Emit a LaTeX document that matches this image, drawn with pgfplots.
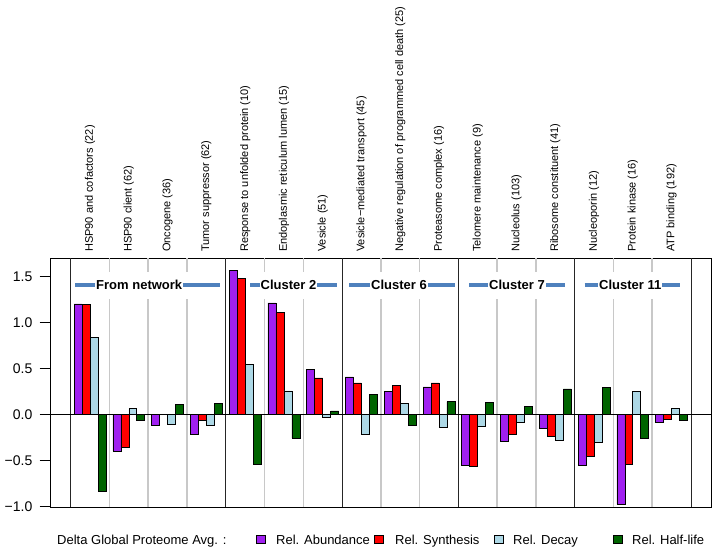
\documentclass[border=0pt]{standalone}
\usepackage{fontspec}
\setmainfont{Liberation Sans}
\usepackage{pgfplots}
\pgfplotsset{compat=1.18}
\newcommand\fs[1]{\fontsize{#1}{#1}\selectfont}
\definecolor{cpurple}{HTML}{A020F0}
\definecolor{cred}{HTML}{FF0000}
\definecolor{cblue}{HTML}{ADD8E6}
\definecolor{cgreen}{HTML}{006400}
\definecolor{cband}{RGB}{79,129,189}
\definecolor{csep}{HTML}{C8C8C8}
\begin{document}
\begin{tikzpicture}[x=1pt,y=1pt]
\useasboundingbox (0,0) rectangle (716,550);
\begin{axis}[
  at={(50pt,43pt)}, anchor=south west,
  scale only axis, width=661pt, height=248.7pt,
  xmin=-0.034, xmax=17.016, ymin=-1.0076, ymax=1.6957,
  clip=false,
  axis line style={line width=1pt},
  xtick=\empty,
  ytick={-1,-0.5,0,0.5,1,1.5},
  yticklabels={−1.0,−0.5,0.0,0.5,1.0,1.5},
  ytick pos=left, tick align=outside, major tick length=10.5pt,
  tick style={black, line width=1pt},
  yticklabel style={font=\fs{14}, inner sep=0pt, anchor=east, xshift=-7pt},
]
% thin grey separators, broken where the group labels sit
\pgfplotsinvokeforeach{1.5,2.5,3.5,5.5,6.5,8.5,9.5,11.5,12.5,14.5,15.5}{
  \draw[csep, line width=1.5pt] (axis cs:#1,-1.0076) -- (axis cs:#1,1.253);
  \draw[csep, line width=1.5pt] (axis cs:#1,1.547) -- (axis cs:#1,1.6957);
}
% group labels
\draw[cband, line width=3.5pt] (axis cs:0.611,1.405) -- (axis cs:4.35,1.405);
\draw[cband, line width=3.5pt] (axis cs:5.125,1.405) -- (axis cs:7.369,1.405);
\draw[cband, line width=3.5pt] (axis cs:7.679,1.405) -- (axis cs:10.41,1.405);
\draw[cband, line width=3.5pt] (axis cs:10.774,1.405) -- (axis cs:13.25,1.405);
\draw[cband, line width=3.5pt] (axis cs:13.755,1.405) -- (axis cs:16.216,1.405);
\tikzset{grp/.style={fill=white, inner xsep=0.8pt, inner ysep=0pt, font=\bfseries\fs{13}}}
\node[grp] at (axis cs:2.267,1.405) {From network};
\node[grp] at (axis cs:6.118,1.405) {Cluster 2};
\node[grp] at (axis cs:8.968,1.405) {Cluster 6};
\node[grp] at (axis cs:12.012,1.405) {Cluster 7};
\node[grp] at (axis cs:14.934,1.405) {Cluster 11};

\addplot[ybar, bar width=0.206, bar shift=-0.309, fill=cpurple, draw=black, line width=0.7pt] coordinates {
 (1,1.20) (2,-0.40) (3,-0.116) (4,-0.22) (5,1.568) (6,1.21) (7,0.487) (8,0.407)
 (9,0.25) (10,0.298) (11,-0.56) (12,-0.298) (13,-0.153) (14,-0.552) (15,-0.98) (16,-0.087)};
\addplot[ybar, bar width=0.206, bar shift=-0.103, fill=cred, draw=black, line width=0.7pt] coordinates {
 (1,1.19) (2,-0.36) (3,0) (4,-0.065) (5,1.48) (6,1.11) (7,0.396) (8,0.341)
 (9,0.316) (10,0.341) (11,-0.563) (12,-0.218) (13,-0.243) (14,-0.461) (15,-0.545) (16,-0.054)};
\addplot[ybar, bar width=0.206, bar shift=0.103, fill=cblue, draw=black, line width=0.7pt] coordinates {
 (1,0.84) (2,0.062) (3,-0.11) (4,-0.116) (5,0.54) (6,0.254) (7,-0.036) (8,-0.22)
 (9,0.116) (10,-0.14) (11,-0.13) (12,-0.087) (13,-0.28) (14,-0.30) (15,0.25) (16,0.065)};
\addplot[ybar, bar width=0.206, bar shift=0.309, fill=cgreen, draw=black, line width=0.7pt] coordinates {
 (1,-0.835) (2,-0.065) (3,0.105) (4,0.116) (5,-0.54) (6,-0.26) (7,0.036) (8,0.22)
 (9,-0.12) (10,0.138) (11,0.127) (12,0.087) (13,0.276) (14,0.294) (15,-0.258) (16,-0.069)};

% group separators and zero line
\pgfplotsinvokeforeach{0.5,4.5,7.5,10.5,13.5,16.5}{
  \draw[black!85, line width=0.9pt] (axis cs:#1,-1.0076) -- (axis cs:#1,1.6957);
}
\draw[black, line width=1.6pt] (axis cs:-0.034,0) -- (axis cs:17.016,0);

% category labels
\tikzset{cat/.style={rotate=90, anchor=west, inner sep=0pt, font=\fs{11}}}
\node[cat] at (axis cs:1,1.764) {HSP90 and cofactors (22)};
\node[cat] at (axis cs:2,1.764) {HSP90 client (62)};
\node[cat] at (axis cs:3,1.764) {Oncogene (36)};
\node[cat] at (axis cs:4,1.764) {Tumor suppressor (62)};
\node[cat] at (axis cs:5,1.764) {Response to unfolded protein (10)};
\node[cat] at (axis cs:6,1.764) {Endoplasmic reticulum lumen (15)};
\node[cat] at (axis cs:7,1.764) {Vesicle (51)};
\node[cat] at (axis cs:8,1.764) {Vesicle−mediated transport (45)};
\node[cat] at (axis cs:9,1.764) {Negative regulation of programmed cell death (25)};
\node[cat] at (axis cs:10,1.764) {Proteasome complex (16)};
\node[cat] at (axis cs:11,1.764) {Telomere maintenance (9)};
\node[cat] at (axis cs:12,1.764) {Nucleolus (103)};
\node[cat] at (axis cs:13,1.764) {Ribosome constituent (41)};
\node[cat] at (axis cs:14,1.764) {Nucleoporin (12)};
\node[cat] at (axis cs:15,1.764) {Protein kinase (16)};
\node[cat] at (axis cs:16,1.764) {ATP binding (192)};
\end{axis}

% legend
\tikzset{leg/.style={anchor=base west, inner sep=0pt, font=\fs{13}}}
\node[leg] at (57,6) {Delta Global Proteome Avg. :};
\draw[fill=cpurple, line width=0.7pt] (256,6.5) rectangle (265,14.5);
\node[leg] at (276,6) {Rel. Abundance};
\draw[fill=cred, line width=0.7pt] (374,6.5) rectangle (383,14.5);
\node[leg] at (395,6) {Rel. Synthesis};
\draw[fill=cblue, line width=0.7pt] (494,6.5) rectangle (503,14.5);
\node[leg] at (513,6) {Rel. Decay};
\draw[fill=cgreen, line width=0.7pt] (613,6.5) rectangle (622,14.5);
\node[leg] at (632,6) {Rel. Half-life};
\end{tikzpicture}
\end{document}
